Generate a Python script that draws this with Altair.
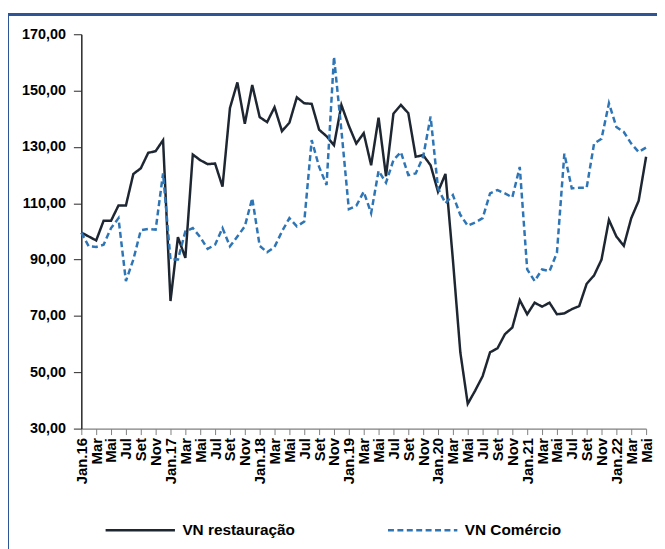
import altair as alt
import pandas as pd
import json

# Month labels (Portuguese), Jan 2016 .. May 2022
month_names = ["Jan", "Fev", "Mar", "Abr", "Mai", "Jun", "Jul", "Ago", "Set", "Out", "Nov", "Dez"]
years = ["16", "17", "18", "19", "20", "21", "22"]
tick_labels = []
for y in years:
    for m in month_names:
        tick_labels.append("Jan." + y if m == "Jan" else m)
tick_labels = tick_labels[:77]

restauracao = [
    99.6, 98.2, 96.8, 103.8, 103.8, 109.2, 109.2, 120.4, 122.4, 127.9, 128.5, 132.4,
    75.3, 98.0, 90.6, 127.3, 125.3, 123.9, 124.1, 115.9, 143.8, 152.9, 138.2, 152.0,
    140.6, 138.8, 144.1, 135.6, 138.6, 147.6, 145.5, 145.3, 136.1, 133.8, 130.6, 144.9,
    137.5, 131.2, 134.9, 123.5, 140.4, 119.6, 141.8, 144.9, 142.0, 126.5, 127.1, 123.5,
    114.1, 120.4, 90.0, 57.1, 38.8, 43.5, 48.6, 57.1, 58.5, 63.5, 65.9, 75.6,
    70.6, 74.7, 73.3, 74.7, 70.6, 70.9, 72.4, 73.5, 81.4, 84.4, 90.0, 104.1,
    98.2, 94.9, 104.7, 110.9, 126.5,
]

comercio = [
    99.6, 94.7, 94.5, 95.3, 101.2, 104.7, 82.4, 90.0, 100.4, 100.9, 100.6, 120.6,
    90.0, 90.0, 100.0, 101.2, 98.0, 93.8, 95.3, 101.2, 94.7, 98.2, 101.8, 111.8,
    94.9, 92.6, 94.5, 100.0, 104.7, 101.8, 103.5, 132.4, 122.9, 116.5, 162.0, 135.9,
    107.9, 109.1, 114.1, 106.5, 121.5, 117.3, 125.3, 128.2, 120.0, 120.6, 126.5, 140.8,
    115.3, 110.0, 112.9, 105.9, 102.0, 103.2, 104.7, 113.5, 114.7, 113.5, 112.1, 122.9,
    86.5, 82.4, 86.5, 85.9, 92.4, 127.6, 115.3, 115.5, 115.5, 131.2, 132.9, 145.5,
    137.1, 135.3, 131.2, 128.2, 129.8,
]

series_names = ["VN restauração", "VN Comércio"]
series_colors = ["#1E2632", "#2E75B6"]

rows = []
for i in range(77):
    rows.append({"idx": i, "label": tick_labels[i], "serie": series_names[0], "valor": restauracao[i]})
    rows.append({"idx": i, "label": tick_labels[i], "serie": series_names[1], "valor": comercio[i]})
df = pd.DataFrame(rows)

FONT = "Liberation Sans"
label_expr = json.dumps(tick_labels) + "[datum.value]"

lines = alt.Chart(df).mark_line(strokeWidth=2.5, clip=False).encode(
    x=alt.X("idx:Q",
            scale=alt.Scale(domain=[0, 76], nice=False, zero=False),
            axis=alt.Axis(values=list(range(0, 77, 2)), labelExpr=label_expr,
                          labelAngle=-90, labelFont=FONT, labelFontSize=15,
                          labelFontWeight="bold", labelColor="#000000",
                          labelPadding=3, tickSize=6, tickColor="#7F7F7F",
                          domainColor="#7F7F7F", domainWidth=1.2, grid=False,
                          title=None, labelOverlap=False, labelBound=False,
                          labelFlush=False)),
    y=alt.Y("valor:Q",
            scale=alt.Scale(domain=[30, 170], nice=False, zero=False),
            axis=alt.Axis(values=list(range(30, 171, 20)),
                          labelExpr="replace(format(datum.value, '.2f'), '.', ',')",
                          labelFont=FONT, labelFontSize=14.5, labelFontWeight="bold",
                          labelColor="#000000", labelPadding=8, tickSize=8,
                          tickColor="#262626", domainColor="#262626", domainWidth=1.5,
                          grid=False, title=None)),
    color=alt.Color("serie:N",
                    scale=alt.Scale(domain=series_names, range=series_colors),
                    legend=alt.Legend(orient="none", direction="horizontal",
                                      legendX=23, legendY=464, title=None,
                                      symbolType="stroke", symbolSize=4900,
                                      symbolStrokeWidth=2.5, labelFont=FONT,
                                      labelFontSize=15.5, labelFontWeight="bold",
                                      labelColor="#000000", labelOffset=6,
                                      columnPadding=88, labelLimit=300)),
    strokeDash=alt.StrokeDash("serie:N",
                              scale=alt.Scale(domain=series_names, range=[[1, 0], [6, 3.5]]),
                              legend=None),
)

frame_top = alt.Chart(df).mark_rule(color="#2F5597", strokeWidth=1.5, clip=False).encode(
    x=alt.value(-74), x2=alt.value(600), y=alt.value(-20)
)
frame_left = alt.Chart(df).mark_rule(color="#2F5597", strokeWidth=1.5, clip=False).encode(
    x=alt.value(-74), y=alt.value(-20), y2=alt.value(540)
)

chart = alt.layer(lines, frame_top, frame_left).properties(
    width=570, height=398,
    autosize=alt.AutoSizeParams(type="none"),
    padding={"left": 74, "top": 24, "right": 11, "bottom": 119},
    background="#FFFFFF",
).configure_view(stroke=None)

chart.save("out.html", embed_options={"renderer": "svg", "actions": False})
